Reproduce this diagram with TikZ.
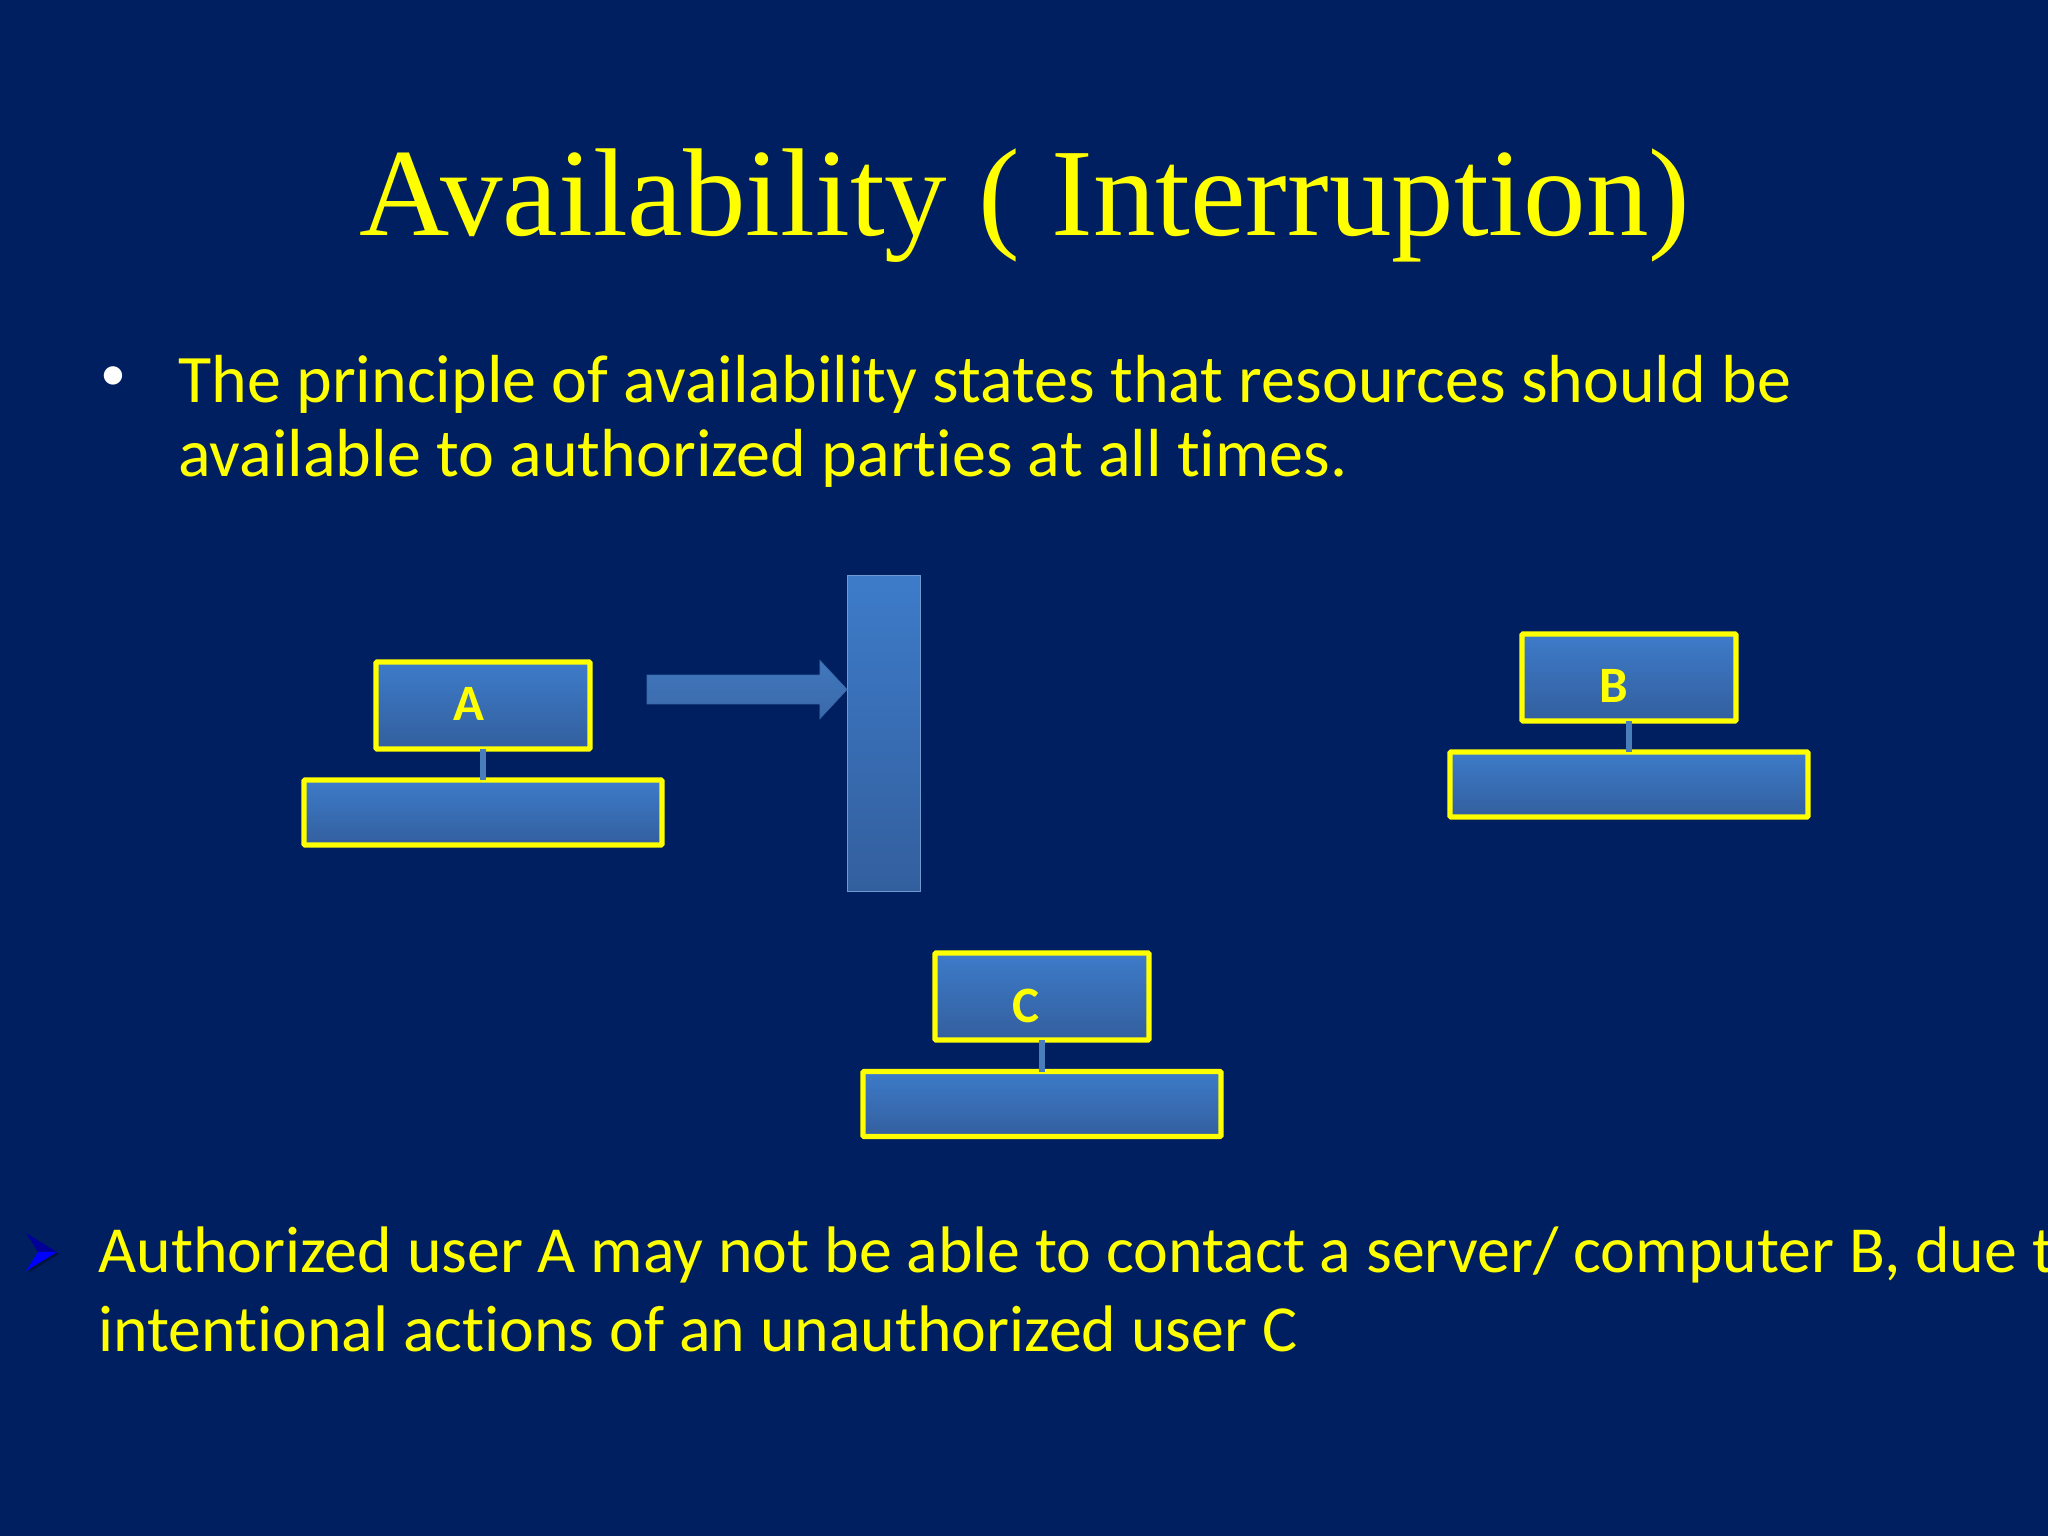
\documentclass[tikz,border=0pt]{standalone}
\usepackage{fontspec}
\setmainfont[Ligatures=NoCommon]{Carlito}
\newfontfamily\titlefont{Liberation Serif}
\usetikzlibrary{shapes.arrows,shadows}
\definecolor{bgblue}{HTML}{001F60}
\definecolor{boxtop}{HTML}{3D7BC9}
\definecolor{boxbot}{HTML}{335F9E}
\definecolor{slideyellow}{HTML}{FFFF00}
\definecolor{linkblue}{HTML}{4A7EBB}
\definecolor{pushtop}{HTML}{4178BE}
\definecolor{pushbot}{HTML}{3A69AA}
\tikzset{
  px/.style={x=0.5pt,y=-0.5pt},
  boxshade/.style={top color=boxtop,bottom color=boxbot},
  softshadow/.style={drop shadow={shadow xshift=0.6pt,shadow yshift=-1pt,fill=black,opacity=0.35}},
  station/.style={draw=slideyellow,line width=2.6pt,boxshade,softshadow,inner sep=0pt,outer sep=0pt,rounded corners=0.5pt},
  upper/.style={station,minimum width=107pt,minimum height=43.5pt},
  lower/.style={station,minimum width=179pt,minimum height=32.5pt},
  link/.style={draw=linkblue,line width=3pt},
  stationlabel/.style={text=slideyellow,inner sep=0pt,font=\fontsize{25.5}{30}\selectfont\bfseries},
  slidetext/.style={text=slideyellow,anchor=base west,inner sep=0pt},
  bodytext/.style={slidetext,font=\fontsize{34}{40}\selectfont},
  lowertext/.style={slidetext,font=\fontsize{32.9}{38}\selectfont},
}
\begin{document}
\begin{tikzpicture}[px]
\useasboundingbox (0,0) rectangle (2048,1536);
\clip (0,0) rectangle (2048,1536);
\fill[bgblue] (0,0) rectangle (2048,1536);
\node[slidetext,font=\titlefont\fontsize{62.5}{70}\selectfont] (title) at (359,235) {Availability ( Interruption)};
\node[text=white,inner sep=0pt,font=\fontsize{26}{32}\selectfont] (dot) at (113,379) {•};
\node[bodytext] (body1) at (178,402) {The principle of availability states that resources should be};
\node[bodytext] (body2) at (178,476.5) {available to authorized parties at all times.};
% barrier and arrow
\node[draw=boxtop!70!white!85!boxbot,line width=0.5pt,boxshade,inner sep=0pt,minimum width=36.5pt,minimum height=158pt] (barrier) at (884,733.5) {};
\node[single arrow,top color=pushtop,bottom color=pushbot,draw=pushbot,line width=0.4pt,inner sep=0pt,outer sep=0pt,anchor=tip,
  minimum height=100pt,minimum width=29pt,single arrow tip angle=94,single arrow head extend=7.25pt] (push) at (barrier.west |- 0,689.5) {\rule{0pt}{14pt}};
% A
\node[upper] (Atop) at (483,705.5) {};
\node[lower] (Abase) at (483,812.5) {};
\draw[link] (Atop.south) -- (Abase.north);
\node[stationlabel] (Alabel) at (469,704) {A};
% B
\node[upper] (Btop) at (1629,677.5) {};
\node[lower] (Bbase) at (1629,784.5) {};
\draw[link] (Btop.south) -- (Bbase.north);
\node[stationlabel] (Blabel) at (1614,686) {B};
% C
\node[upper] (Ctop) at (1042,996.5) {};
\node[lower] (Cbase) at (1042,1104) {};
\draw[link] (Ctop.south) -- (Cbase.north);
\node[stationlabel] (Clabel) at (1026,1006) {C};
% lower bullet
\fill[black,opacity=0.35] (28,1235) -- (59,1254) -- (28,1273) -- (40,1254) -- cycle;
\fill[blue!60!black] (26,1233) -- (57,1252) -- (38,1252) -- cycle;
\fill[blue] (26,1271) -- (57,1252) -- (38,1252) -- cycle;
\node[lowertext] (low1) at (98,1272) {Authorized user A may not be able to contact a server/ computer B, due t};
\node[lowertext] (low2) at (98,1351) {intentional actions of an unauthorized user C};
\end{tikzpicture}
\end{document}
